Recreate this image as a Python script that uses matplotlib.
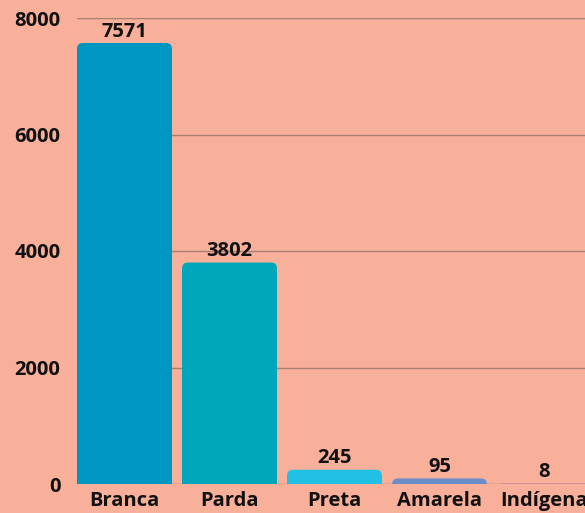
import matplotlib
matplotlib.use("Agg")
import matplotlib.pyplot as plt
from matplotlib.patches import FancyBboxPatch

categories = ["Branca", "Parda", "Preta", "Amarela", "Indígena"]
values = [7571, 3802, 245, 95, 8]
colors = ["#0096C2", "#00A6B9", "#22C0E4", "#6A8CC8", "#B07AA8"]
yticks = [0, 2000, 4000, 6000, 8000]

bg = "#F8B09B"
plt.rcParams['font.family'] = ['Open Sans', 'DejaVu Sans']

W, H = 585, 513
fig = plt.figure(figsize=(W / 100, H / 100), dpi=100, facecolor=bg)
left_px, right_px, bottom_px, top_px = 77, 585, 484, 18
ax = fig.add_axes([left_px / W, 1 - bottom_px / H, (right_px - left_px) / W, (bottom_px - top_px) / H])
ax.set_facecolor(bg)

width = 95 / 105
x = list(range(len(categories)))
ax.set_xlim(-width / 2, -width / 2 + (right_px - left_px) / 105)
ax.set_ylim(0, 8000)

for t in yticks:
    ax.axhline(t, color="#A88070", lw=1, zorder=0)

bars = ax.bar(x, values, width=width, color=colors, zorder=2)
rad_px = 6
px_x = 1 / 105
px_y = 8000 / (bottom_px - top_px)
aspect = px_y / px_x
for b, c in zip(bars, colors):
    b.set_visible(False)
    x0, w, h = b.get_x(), b.get_width(), b.get_height()
    r = rad_px * px_x
    ry = r * aspect
    big = 600
    p = FancyBboxPatch((x0 + r, -big + ry), w - 2 * r, h + big - 2 * ry,
                       boxstyle=f"round,pad={r},rounding_size={r}",
                       mutation_aspect=aspect, facecolor=c, edgecolor="none", lw=0, zorder=2)
    ax.add_patch(p)

fs = 14.5
for xi, v in zip(x, values):
    ax.annotate(f"{v}", (xi, v), xytext=(0, 1), textcoords="offset points",
                ha="center", va="bottom", fontsize=fs, fontweight="bold", color="#111111", zorder=3)

ax.set_xticks(x)
ax.set_xticklabels(categories, fontsize=fs, fontweight="bold", color="#111111")
ax.set_yticks(yticks)
ax.set_yticklabels([str(t) for t in yticks], fontsize=fs, fontweight="bold", color="#111111")
ax.tick_params(length=0)
ax.tick_params(axis="y", pad=12)
ax.tick_params(axis="x", pad=5)
for s in ax.spines.values():
    s.set_visible(False)

fig.savefig("out.png", dpi=100, facecolor=bg)
